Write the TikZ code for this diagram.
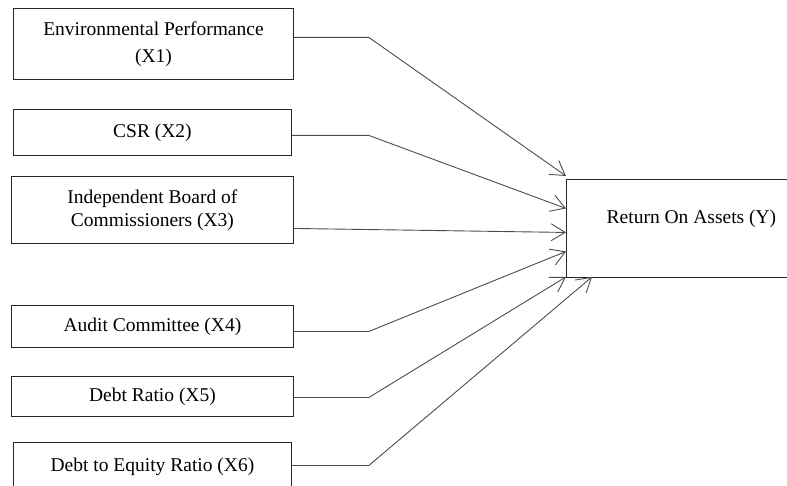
\documentclass[tikz,border=0pt]{standalone}
\usepackage{fontspec}
\setmainfont{Liberation Serif}
\usetikzlibrary{arrows.meta}

\begin{document}
\begin{tikzpicture}[
  x=1pt, y=-1pt,
  every node/.style={font=\fontsize{19.5}{26}\selectfont},
  box/.style={draw=black!85, line width=0.9pt, anchor=north west, inner sep=0pt,
              align=center, minimum width=280pt},
  link/.style={draw=black!70, line width=0.9pt,
               -{Straight Barb[length=14pt, width=17pt]}},
]
  \clip (0,0) rectangle (787,486);

  % Predictor column
  \node[box, minimum height=71pt] (x1) at (13,8)
    {Environmental Performance\\[1pt] (X1)};
  \node[box, minimum height=46pt, minimum width=278pt] (x2) at (13,109)
    {CSR (X2)};
  \node[box, minimum height=67pt, minimum width=282pt] (x3) at (11,176)
    {Independent Board of\\[-3pt] Commissioners (X3)};
  \node[box, minimum height=42pt, minimum width=282pt] (x4) at (11,305)
    {Audit Committee (X4)};
  \node[box, minimum height=40pt, minimum width=282pt] (x5) at (11,376)
    {Debt Ratio (X5)};
  \node[box, minimum height=48pt, minimum width=278pt] (x6) at (13,442)
    {Debt to Equity Ratio (X6)};

  % Outcome
  \node[box, minimum height=98pt, minimum width=250pt] (y) at (566,179) {};
  \node (ytext) at ([yshift=10pt]y.center) {Return On Assets (Y)};

  % Arrows: predictors -> outcome
  \draw[link] ([yshift=6.5pt]x1.east) -- ++(75,0) -- ([yshift=3pt]y.north west);
  \draw[link] ([yshift=-3pt]x2.east) -- ++(77,0) -- ([yshift=20pt]y.west);
  \draw[link] ([yshift=-18.5pt]x3.east) -- ([yshift=-4pt]y.west);
  \draw[link] ([yshift=-5pt]x4.east) -- ++(75,0) -- ([yshift=-23pt]y.west);
  \draw[link] ([yshift=-1pt]x5.east) -- ++(75,0) -- ([yshift=1pt]y.south west);
  \draw[link] ([yshift=1pt]x6.east) -- ++(77,0) -- ([xshift=26pt, yshift=1pt]y.south west);
\end{tikzpicture}
\end{document}
